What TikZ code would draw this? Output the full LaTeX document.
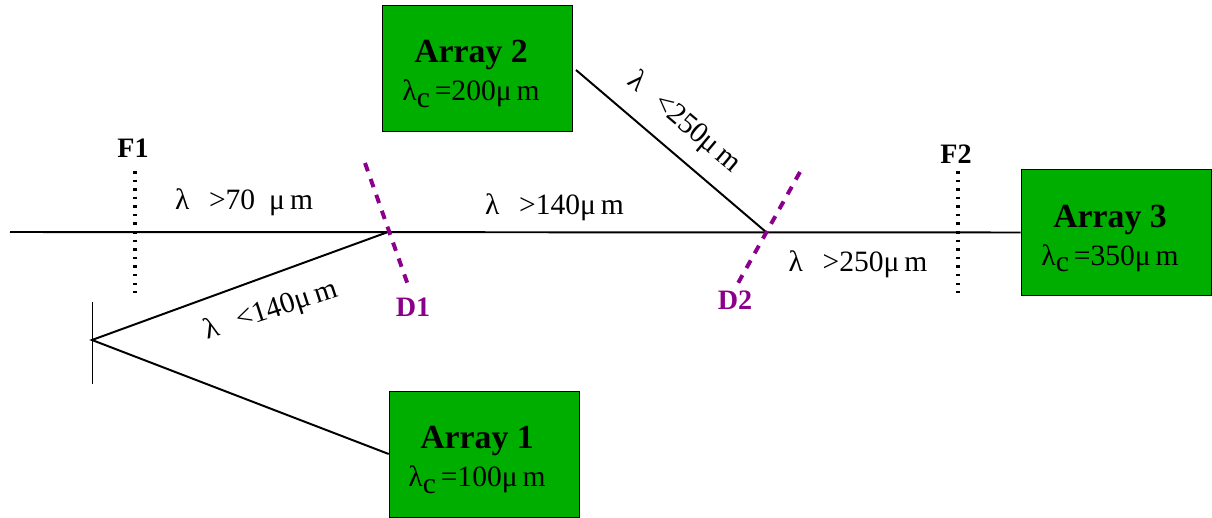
\documentclass[tikz,border=0pt]{standalone}
\usepackage{fontspec}
\setmainfont{Liberation Serif}
\definecolor{arraygreen}{RGB}{0,174,0}
\definecolor{dichroic}{RGB}{139,0,139}
\newcommand{\lamc}{λ\raisebox{-4.5pt}{c}\,}
\tikzset{
  arraybox/.style={draw=black,fill=arraygreen,minimum width=4.75cm,minimum height=3.15cm},
  arraylabel/.style={align=center,inner sep=0pt,font=\fontsize{21}{27}\selectfont},
  beam/.style={line width=1.4pt},
  filterline/.style={line width=3.4pt,dash pattern=on 1.8pt off 4.3pt},
  splitline/.style={dichroic,line width=2.8pt,dash pattern=on 6.2pt off 5.8pt},
  bandlabel/.style={font=\fontsize{21}{24}\selectfont,inner sep=0pt},
  marklabel/.style={font=\fontsize{20}{24}\selectfont\bfseries,inner sep=0pt}
}
\newcommand{\arraytext}[2]{{\fontsize{24}{27}\selectfont\bfseries Array #1}\\\lamc=#2μ\,m}
\begin{document}
\begin{tikzpicture}[x=0.025cm,y=-0.025cm]
    \useasboundingbox (0,0) rectangle (1212,518);

    \node[arraybox] (array1) at (484,454) {};
    \node[arraybox] (array2) at (477,68) {};
    \node[arraybox] (array3) at (1116,232.5) {};
    \node[arraylabel] (label1) at (477,460) {\arraytext{1}{100}};
    \node[arraylabel] (label2) at (471,74) {\arraytext{2}{200}};
    \node[arraylabel] (label3) at (1110,238.5) {\arraytext{3}{350}};

    % beam path
    \coordinate (start) at (10,232);
    \coordinate (hitd1) at (388,232);
    \coordinate (hitd2) at (766,232);
    \coordinate (mirror) at (92,340);
    \coordinate (mirrortop) at (92,302);
    \coordinate (mirrorbot) at (92,384);
    \coordinate (leave2) at (576,70);
    \draw[beam] (start)--(array3.west);
    \draw[beam] (hitd1)--(mirror)--(array1.west);
    \draw[beam] (leave2)--(hitd2);
    \draw[line width=0.6pt] (mirrortop)--(mirrorbot);

    % filters
    \node[marklabel] (f1) at (133,148) {F1};
    \node[marklabel] (f2) at (956,154) {F2};
    \coordinate (f1top) at (135,171);
    \coordinate (f1bot) at (135,293);
    \coordinate (f2top) at (958,171);
    \coordinate (f2bot) at (958,293);
    \draw[filterline] (f1top)--(f1bot);
    \draw[filterline] (f2top)--(f2bot);

    % dichroics
    \node[marklabel,text=dichroic] (d1) at (413,307) {D1};
    \node[marklabel,text=dichroic] (d2) at (735,300) {D2};
    \coordinate (d1top) at (365,163);
    \coordinate (d1bot) at (408,285);
    \coordinate (d2top) at (800,172);
    \coordinate (d2bot) at (737,285);
    \draw[splitline] (d1top)--(d1bot);
    \draw[splitline] (d2top)--(d2bot);

    % bands
    \node[bandlabel] (band70) at (244,202) {λ\hspace{14pt}>70\hspace{10pt}μ\,m};
    \node[bandlabel] (band140) at (554.5,207) {λ\hspace{14pt}>140μ\,m};
    \node[bandlabel] (band250) at (858,264) {λ\hspace{14pt}>250μ\,m};
    \node[bandlabel,rotate=-40] (band250b) at (684,123) {λ\hspace{14pt}<250μ\,m};
    \node[bandlabel,rotate=18] (band140b) at (271,311) {λ\hspace{14pt}<140μ\,m};
\end{tikzpicture}
\end{document}
